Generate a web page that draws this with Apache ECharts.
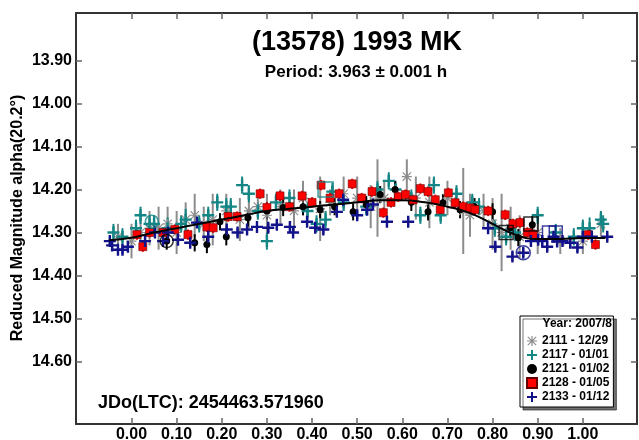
<!DOCTYPE html>
<html>
<head>
<meta charset="utf-8">
<script src="https://cdn.jsdelivr.net/npm/echarts@6/dist/echarts.min.js"></script>
<style>
html, body { margin: 0; padding: 0; background: #fff; }
#chart { width: 639px; height: 440px; }
</style>
</head>
<body>
<div id="chart"></div>
<script>
// 刻度
var xTicks = [0.0, 0.1, 0.2, 0.3, 0.4, 0.5, 0.6, 0.7, 0.8, 0.9, 1.0];
var yTicks = [13.9, 14.0, 14.1, 14.2, 14.3, 14.4, 14.5, 14.6];

// 图例名称
var names = ['2111 - 12/29', '2117 - 01/01', '2121 - 01/02', '2128 - 01/05', '2133 - 01/12'];

// [phase, mag, err]
var s2111 = [
    [-0.03, 14.31, 0.03], [0.00, 14.32, 0.04], [0.02, 14.30, 0.03], [0.04, 14.29, 0.04],
    [0.06, 14.29, 0.05], [0.08, 14.28, 0.04], [0.10, 14.30, 0.05], [0.12, 14.27, 0.04],
    [0.14, 14.26, 0.05], [0.16, 14.28, 0.04], [0.18, 14.27, 0.06], [0.21, 14.25, 0.04],
    [0.24, 14.27, 0.05], [0.26, 14.25, 0.04], [0.28, 14.24, 0.03], [0.30, 14.26, 0.05],
    [0.33, 14.24, 0.04], [0.36, 14.25, 0.05], [0.38, 14.22, 0.04], [0.418, 14.245, 0.075],
    [0.44, 14.23, 0.03], [0.47, 14.21, 0.04], [0.50, 14.22, 0.05], [0.53, 14.24, 0.05],
    [0.545, 14.22, 0.09], [0.56, 14.22, 0.04], [0.61, 14.17, 0.04], [0.63, 14.22, 0.05],
    [0.66, 14.23, 0.06], [0.70, 14.22, 0.04], [0.735, 14.25, 0.10], [0.75, 14.26, 0.05],
    [0.78, 14.25, 0.04], [0.80, 14.28, 0.06], [0.82, 14.30, 0.09], [0.84, 14.29, 0.05],
    [0.86, 14.31, 0.05], [0.90, 14.30, 0.05], [0.95, 14.32, 0.03], [1.00, 14.32, 0.03],
    [1.04, 14.28, 0.03]
];
var s2117 = [
    [-0.04, 14.30, 0.02], [-0.02, 14.31, 0.02], [0.01, 14.29, 0.02], [0.02, 14.26, 0.02],
    [0.04, 14.28, 0.02], [0.05, 14.28, 0.02], [0.08, 14.29, 0.025], [0.11, 14.28, 0.02],
    [0.12, 14.27, 0.025], [0.15, 14.28, 0.02], [0.17, 14.26, 0.02], [0.19, 14.23, 0.02],
    [0.21, 14.24, 0.02], [0.22, 14.24, 0.02], [0.245, 14.19, 0.02], [0.26, 14.21, 0.02],
    [0.28, 14.25, 0.02], [0.30, 14.32, 0.02], [0.32, 14.23, 0.02], [0.35, 14.22, 0.02],
    [0.39, 14.25, 0.02], [0.41, 14.28, 0.02], [0.43, 14.27, 0.02], [0.445, 14.205, 0.02],
    [0.47, 14.23, 0.02], [0.52, 14.24, 0.02], [0.545, 14.20, 0.02], [0.57, 14.18, 0.02],
    [0.585, 14.20, 0.02], [0.62, 14.22, 0.02], [0.64, 14.26, 0.02], [0.67, 14.19, 0.02],
    [0.685, 14.26, 0.02], [0.72, 14.21, 0.02], [0.755, 14.23, 0.02], [0.77, 14.24, 0.02],
    [0.805, 14.29, 0.02], [0.83, 14.31, 0.02], [0.85, 14.30, 0.02], [0.90, 14.26, 0.02],
    [0.94, 14.30, 0.02], [0.98, 14.31, 0.02], [1.00, 14.29, 0.02], [1.015, 14.29, 0.025],
    [1.04, 14.27, 0.02], [1.045, 14.28, 0.02]
];
var s2121 = [
    [0.078, 14.32, 0.02], [0.14, 14.324, 0.02], [0.167, 14.328, 0.02], [0.196, 14.275, 0.02],
    [0.21, 14.31, 0.02], [0.258, 14.266, 0.02], [0.30, 14.25, 0.02], [0.336, 14.242, 0.02],
    [0.38, 14.24, 0.02], [0.418, 14.247, 0.02], [0.45, 14.24, 0.02], [0.491, 14.252, 0.02],
    [0.52, 14.235, 0.02], [0.551, 14.212, 0.02], [0.584, 14.20, 0.02], [0.62, 14.23, 0.02],
    [0.657, 14.252, 0.02], [0.69, 14.231, 0.02], [0.728, 14.247, 0.02], [0.76, 14.24, 0.02],
    [0.80, 14.252, 0.02], [0.839, 14.289, 0.02], [0.857, 14.312, 0.02], [0.888, 14.282, 0.02]
];
var s2128 = [
    [0.012, 14.305, 0.012], [0.025, 14.333, 0.012], [0.04, 14.30, 0.012], [0.07, 14.30, 0.012],
    [0.096, 14.293, 0.012], [0.125, 14.305, 0.012], [0.167, 14.287, 0.012], [0.181, 14.289, 0.012],
    [0.214, 14.263, 0.012], [0.234, 14.263, 0.012], [0.285, 14.21, 0.012], [0.30, 14.242, 0.012],
    [0.329, 14.215, 0.012], [0.35, 14.24, 0.012], [0.378, 14.215, 0.012], [0.40, 14.23, 0.012],
    [0.42, 14.19, 0.012], [0.44, 14.22, 0.012], [0.46, 14.21, 0.012], [0.489, 14.187, 0.012],
    [0.51, 14.22, 0.012], [0.533, 14.205, 0.012], [0.558, 14.254, 0.012], [0.575, 14.23, 0.012],
    [0.591, 14.217, 0.012], [0.607, 14.212, 0.012], [0.624, 14.224, 0.012], [0.64, 14.198, 0.012],
    [0.657, 14.205, 0.012], [0.673, 14.224, 0.012], [0.684, 14.247, 0.012], [0.702, 14.208, 0.012],
    [0.717, 14.231, 0.012], [0.735, 14.24, 0.012], [0.75, 14.243, 0.012], [0.761, 14.247, 0.012],
    [0.79, 14.25, 0.012], [0.828, 14.259, 0.012], [0.845, 14.28, 0.012], [0.861, 14.277, 0.012],
    [0.877, 14.30, 0.012], [0.89, 14.305, 0.012], [1.012, 14.305, 0.012], [1.028, 14.328, 0.012]
];
var s2133 = [
    [-0.048, 14.32, 0.01], [-0.043, 14.33, 0.01], [-0.03, 14.34, 0.01], [-0.02, 14.34, 0.01],
    [-0.008, 14.333, 0.01], [0.03, 14.32, 0.01], [0.052, 14.30, 0.01], [0.07, 14.32, 0.01],
    [0.081, 14.30, 0.01], [0.103, 14.317, 0.01], [0.13, 14.324, 0.01], [0.145, 14.277, 0.01],
    [0.17, 14.31, 0.01], [0.211, 14.293, 0.01], [0.235, 14.30, 0.01], [0.256, 14.293, 0.01],
    [0.278, 14.287, 0.01], [0.303, 14.289, 0.01], [0.322, 14.282, 0.01], [0.351, 14.287, 0.01],
    [0.358, 14.30, 0.01], [0.389, 14.275, 0.01], [0.407, 14.289, 0.01], [0.425, 14.293, 0.01],
    [0.455, 14.252, 0.01], [0.469, 14.224, 0.01], [0.50, 14.26, 0.01], [0.522, 14.247, 0.01],
    [0.535, 14.235, 0.01], [0.566, 14.275, 0.01], [0.613, 14.275, 0.01], [0.79, 14.29, 0.01],
    [0.806, 14.333, 0.01], [0.844, 14.356, 0.01], [0.868, 14.347, 0.01], [0.885, 14.32, 0.01],
    [0.901, 14.317, 0.01], [0.91, 14.32, 0.01], [0.921, 14.333, 0.01], [0.935, 14.31, 0.01],
    [0.943, 14.321, 0.01], [0.955, 14.32, 0.01], [0.972, 14.324, 0.01], [0.988, 14.335, 0.01],
    [1.0, 14.31, 0.01], [1.02, 14.31, 0.01], [1.054, 14.31, 0.01]
];

// 拟合曲线
var fitCurve = [
    [-0.05, 14.318], [0.0, 14.312], [0.05, 14.30], [0.10, 14.29], [0.15, 14.28], [0.20, 14.27],
    [0.25, 14.26], [0.30, 14.25], [0.35, 14.245], [0.40, 14.24], [0.45, 14.235], [0.50, 14.23],
    [0.55, 14.225], [0.60, 14.225], [0.65, 14.23], [0.70, 14.24], [0.75, 14.255], [0.80, 14.28],
    [0.85, 14.305], [0.90, 14.315], [0.95, 14.315], [1.00, 14.313], [1.05, 14.313]
];

// 每段开头的框/圈标记
var boxTeal = [[0.43, 14.20]];
var boxBlack = [[0.885, 14.28], [0.83, 14.30]];
var boxBlue = [[0.925, 14.30], [0.94, 14.30]];
var ringBlue = [[0.868, 14.347]];
var ringBlack = [[0.078, 14.32]];
var ringTeal = [[0.045, 14.275]];

var colors = ['#8c8c8c', '#138585', '#000000', '#ff0000', '#12128a'];
var plusPath = 'path://M4,0h2v4h4v2h-4v4h-2v-4h-4v-2h4z';
var starPath = 'path://M4.4,0h1.2v10h-1.2z M0,4.4h10v1.2h-10z M1.2,0.4l8.4,8.4l-0.8,0.8l-8.4,-8.4z M8.8,0.4l0.8,0.8l-8.4,8.4l-0.8,-0.8z';

function errBars(data, color) {
    return {
        type: 'custom',
        data: data,
        silent: true,
        renderItem: function(params, api) {
            var x = api.value(0), y = api.value(1), e = api.value(2);
            var p1 = api.coord([x, y - e]);
            var p2 = api.coord([x, y + e]);
            return {
                type: 'line',
                shape: { x1: p1[0], y1: p1[1], x2: p2[0], y2: p2[1] },
                style: { stroke: color, lineWidth: 2 }
            };
        }
    };
}

function points(name, data, symbol, size, color, extra) {
    var s = {
        name: name,
        type: 'scatter',
        data: data,
        symbol: symbol,
        symbolSize: size,
        itemStyle: { color: color, opacity: 1 }
    };
    if (extra) s.itemStyle = Object.assign(s.itemStyle, extra);
    return s;
}

function outline(data, symbol, size, color) {
    return {
        type: 'scatter',
        data: data,
        symbol: symbol,
        symbolSize: size,
        silent: true,
        itemStyle: { color: 'none', borderColor: color, borderWidth: 1.5 }
    };
}

var axisFont = { fontFamily: 'Liberation Sans', fontWeight: 'bold', fontSize: 16, color: '#000' };
var frame = { show: true, onZero: false, lineStyle: { color: '#333', width: 2 } };
var tickStyle = { lineStyle: { color: '#666', width: 1.5 } };

var myChart = echarts.init(document.getElementById('chart'));
var options = {
    animation: false,
    backgroundColor: '#fff',
    grid: { left: 76, top: 13, right: 2, bottom: 16, outerBoundsMode: 'none', containLabel: false },
    legend: {
        orient: 'vertical',
        left: 520,
        top: 316,
        align: 'left',
        padding: [18, 4, 3, 6],
        itemGap: 0,
        itemWidth: 10,
        itemHeight: 10,
        backgroundColor: '#fff',
        borderColor: '#000',
        borderWidth: 1,
        borderRadius: 0,
        shadowColor: 'rgba(0,0,0,0.55)',
        shadowOffsetX: 3,
        shadowOffsetY: 3,
        shadowBlur: 0,
        textStyle: { fontFamily: 'Liberation Sans', fontWeight: 'bold', fontSize: 12, lineHeight: 14, color: '#000' },
        data: names
    },
    graphic: [{
        type: 'text',
        z: 100,
        x: 357,
        y: 43,
        style: { text: '(13578) 1993 MK', textAlign: 'center', textVerticalAlign: 'middle', fontFamily: 'Liberation Sans', fontWeight: 'bold', fontSize: 27, fill: '#000' }
    }, {
        type: 'text',
        z: 100,
        x: 356,
        y: 72,
        style: { text: 'Period: 3.963 ± 0.001 h', textAlign: 'center', textVerticalAlign: 'middle', fontFamily: 'Liberation Sans', fontWeight: 'bold', fontSize: 17, fill: '#000' }
    }, {
        type: 'text',
        z: 100,
        x: 18,
        y: 218,
        rotation: Math.PI / 2,
        style: { text: 'Reduced Magnitude alpha(20.2°)', textAlign: 'center', textVerticalAlign: 'middle', fontFamily: 'Liberation Sans', fontWeight: 'bold', fontSize: 16, fill: '#000' }
    }, {
        type: 'text',
        z: 100,
        x: 612,
        y: 324,
        style: { text: 'Year: 2007/8', textAlign: 'right', textVerticalAlign: 'middle', fontFamily: 'Liberation Sans', fontWeight: 'bold', fontSize: 12, fill: '#000' }
    }, {
        type: 'text',
        z: 100,
        x: 98,
        y: 403,
        style: { text: 'JDo(LTC): 2454463.571960', textVerticalAlign: 'middle', fontFamily: 'Liberation Sans', fontWeight: 'bold', fontSize: 18, fill: '#000' }
    }],
    xAxis: [{
        type: 'value',
        min: -0.123,
        max: 1.12,
        position: 'bottom',
        axisLine: frame,
        splitLine: { show: false },
        axisTick: Object.assign({ inside: true, length: 6, customValues: xTicks }, tickStyle),
        axisLabel: Object.assign({ margin: 3, customValues: xTicks, formatter: function(v) { return v.toFixed(2); } }, axisFont)
    }, {
        type: 'value',
        min: -0.123,
        max: 1.12,
        position: 'top',
        axisLine: frame,
        splitLine: { show: false },
        axisTick: Object.assign({ inside: true, length: 6, customValues: xTicks }, tickStyle),
        axisLabel: { show: false }
    }],
    yAxis: [{
        type: 'value',
        inverse: true,
        min: 13.79,
        max: 14.745,
        position: 'left',
        axisLine: frame,
        splitLine: { show: false },
        axisTick: Object.assign({ inside: true, length: 6, customValues: yTicks }, tickStyle),
        axisLabel: Object.assign({ margin: 4, customValues: yTicks, formatter: function(v) { return v.toFixed(2); } }, axisFont)
    }, {
        type: 'value',
        inverse: true,
        min: 13.79,
        max: 14.745,
        position: 'right',
        axisLine: frame,
        splitLine: { show: false },
        axisTick: Object.assign({ inside: true, length: 6, customValues: yTicks }, tickStyle),
        axisLabel: { show: false }
    }],
    series: [
        errBars(s2111, colors[0]),
        points(names[0], s2111, starPath, 10, colors[0]),
        errBars(s2117, colors[1]),
        points(names[1], s2117, plusPath, 12, colors[1]),
        {
            type: 'line',
            data: fitCurve,
            smooth: true,
            symbol: 'none',
            silent: true,
            lineStyle: { color: '#000', width: 2 }
        },
        errBars(s2121, colors[2]),
        points(names[2], s2121, 'circle', 7, colors[2]),
        errBars(s2128, colors[3]),
        points(names[3], s2128, 'rect', 8, colors[3], { borderColor: '#600', borderWidth: 0.6 }),
        errBars(s2133, colors[4]),
        points(names[4], s2133, plusPath, 12, colors[4]),
        outline(boxTeal, 'rect', 15, colors[1]),
        outline(boxBlack, 'rect', 14, '#000'),
        outline(boxBlue, 'rect', 13, colors[4]),
        outline(ringBlue, 'circle', 14, colors[4]),
        outline(ringBlack, 'circle', 13, '#000'),
        outline(ringTeal, 'circle', 13, colors[1])
    ]
};
myChart.setOption(options);
</script>
</body>
</html>
